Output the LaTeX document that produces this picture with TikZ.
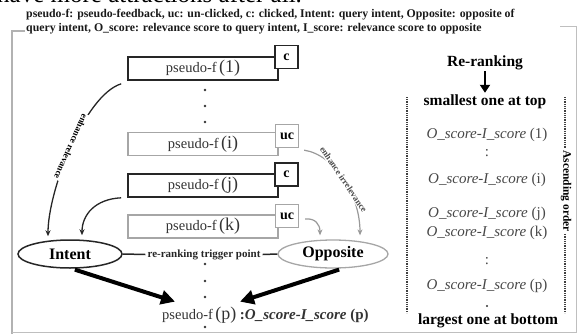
\documentclass[tikz,border=0pt]{standalone}
\usepackage{fontspec}
\setmainfont{Liberation Serif}
\usetikzlibrary{arrows.meta,calc,shapes.geometric}
\newcommand\bigpar[1]{{\fontsize{18}{18}\selectfont(#1)}}
\newcommand\oscore[1]{\textit{O\_score-I\_score} (#1)}
\begin{document}
\begin{tikzpicture}[x=1pt,y=-1pt,
  fbox/.style={draw=black!85, line width=1.6pt, minimum width=150pt, minimum height=23pt, inner sep=0pt, text=black!80, font=\fontsize{14.5}{16}\selectfont},
  gbox/.style={fbox, draw=black!35, line width=1.3pt},
  ftag/.style={draw=black!85, line width=1.6pt, fill=white, minimum width=23pt, minimum height=23pt, inner sep=0pt, font=\bfseries\fontsize{14}{16}\selectfont},
  gtag/.style={ftag, draw=black!35, line width=1.3pt},
  dotn/.style={circle, fill=black!80, inner sep=0pt, minimum size=2.6pt},
  ellnode/.style={ellipse, line width=1.5pt, minimum height=28pt, inner sep=1pt, font=\bfseries\fontsize{16}{18}\selectfont},
  captxt/.style={anchor=west, inner sep=0pt, text=black!90, font=\bfseries\fontsize{11.8}{13}\selectfont},
  rtext/.style={inner sep=1pt, text=black!72, font=\fontsize{15}{17}\selectfont},
  rbold/.style={inner sep=1pt, text=black, font=\bfseries\fontsize{15.5}{17}\selectfont},
  blkarr/.style={draw=black!85, line width=1.3pt, -{Stealth[length=6pt,width=5pt]}},
  gryarr/.style={draw=black!40, line width=1.2pt, -{Stealth[length=6pt,width=5pt]}},
  bigarr/.style={draw=black, line width=4pt, -{Triangle[length=14pt,width=14pt]}},
  smalllbl/.style={inner sep=1pt, fill=white, font=\bfseries\fontsize{9}{10}\selectfont},
  dotline/.style={draw=black!75, line width=1.3pt, dash pattern=on 0.9pt off 0.9pt}
]
\useasboundingbox (0,0) rectangle (578,335);

% cut text at the top
\node[anchor=base west, inner sep=0pt, font=\fontsize{25}{25}\selectfont] (cut) at (-3,2) {have more attractions after all.};

% caption
\node[captxt] (cap1) at (26,15) {pseudo-f: pseudo-feedback, uc: un-clicked, c: clicked, Intent: query intent, Opposite: opposite of};
\node[captxt] (cap2) at (26,28.5) {query intent, O\_score: relevance score to query intent, I\_score: relevance score to opposite};

% frame
\draw[black!30, line width=2.5pt] (25,31) -- (12,31) -- (12,334);
\draw[black!25, line width=1pt] (12,332) -- (576,332) -- (576,26) -- (560,26);

% boxes
\node[fbox] (b1) at (203,68.5) {pseudo-f\,\bigpar{1}};
\node[ftag] (t1) at (286.5,57) {c};
\node[gbox] (bi) at (203,144) {pseudo-f\,\bigpar{i}};
\node[gtag] (ti) at (287,136) {uc};
\node[fbox] (bj) at (203,185.5) {pseudo-f\,\bigpar{j}};
\node[ftag] (tj) at (286.5,174.5) {c};
\node[gbox] (bk) at (203,226.5) {pseudo-f\,\bigpar{k}};
\node[gtag] (tk) at (287,216) {uc};

% dots
\node[dotn] (d1) at (205,90) {};
\node[dotn] (d2) at (205,106) {};
\node[dotn] (d3) at (205,122) {};
\node[dotn] (d4) at (205,264) {};
\node[dotn] (d5) at (205,281) {};
\node[dotn] (d6) at (205,297) {};
\node[dotn] (d7) at (205,327) {};

% ellipses
\node[ellnode, draw=black!85, minimum width=104pt] (intent) at (70,254) {Intent};
\node[ellnode, draw=black!35, line width=1.3pt, minimum width=110pt] (opp) at (333,254) {Opposite};

% trigger
\node[inner sep=2pt, font=\bfseries\fontsize{11}{12}\selectfont, text=black!85] (trig) at (204,254.5) {re-ranking trigger point};
\draw[black!85, line width=1.5pt] (intent.east) -- (trig.west);
\draw[black!85, line width=1.5pt] (trig.east) -- (opp.west);

% pseudo-f (p)
\node[anchor=west, inner sep=0pt, text=black!80] (pn) at (162,315) {\fontsize{14.5}{16}\selectfont pseudo-f\,\bigpar{p} \textbf{\fontsize{15}{16}\selectfont :\textit{O\_score-I\_score} (p)}};

% curved arrows
\draw[blkarr] ([shift={(-6,3)}]b1.south west) .. controls (85,95) and (48,190) .. node[smalllbl, rotate=-114] (er) {enhance relevance} ([xshift=-22pt, yshift=3pt]intent.north);
\draw[blkarr] ([xshift=-6pt]bj.south west) .. controls (95,199) and (82,215) .. ([xshift=12pt, yshift=4pt]intent.north);
\draw[gryarr] ([shift={(5,2)}]ti.south east) .. controls (335,155) and (360,195) .. node[smalllbl, rotate=-56, text=black!70] (ei) {enhance irrelevance} ([xshift=27pt, yshift=4pt]opp.north);
\draw[gryarr] ([shift={(6,3)}]tk.east) .. controls (315,218) and (320,224) .. ([xshift=-13pt, yshift=4pt]opp.north);

% big arrows
\draw[bigarr, shorten <=3pt] ([xshift=2pt]intent.south) -- ([xshift=13pt, yshift=5pt]pn.north west);
\draw[bigarr, shorten <=3pt] ([xshift=9pt]opp.south) -- ([xshift=78pt, yshift=5pt]pn.north west);

% right panel
\node[rbold] (rr) at (485,63) {Re-ranking};
\node[rbold] (sm) at (485,102) {smallest one at top};
\draw[draw=black, line width=2.5pt, -{Triangle[length=8pt,width=10pt]}, shorten >=1pt] (rr.south) -- (sm.north);
\node[rtext] (s1) at (487,135) {\oscore{1}};
\node[rtext] (c1) at (487,153) {:};
\node[rtext] (si) at (487,180) {\oscore{i}};
\node[rtext] (sj) at (487,214) {\oscore{j}};
\node[rtext] (sk) at (487,233) {\oscore{k}};
\node[rtext] (c2) at (487,261) {:};
\node[rtext] (sp) at (487,286) {\oscore{p}};
\node[dotn, minimum size=2.2pt] (d8) at (487,306) {};
\node[rbold] (lg) at (488,321) {largest one at bottom};

\coordinate (dl1) at (407,97);
\coordinate (dl2) at (407,313);
\coordinate (dr1) at (565,97);
\coordinate (dr2) at (565,313);
\draw[dotline] (dl1) -- (dl2);
\draw[dotline] (dr1) -- (dr2);
\node[fill=white, inner sep=1pt, rotate=-90, font=\bfseries\fontsize{11.5}{12}\selectfont] (asc) at (566,191) {Ascending order};
\end{tikzpicture}
\end{document}
